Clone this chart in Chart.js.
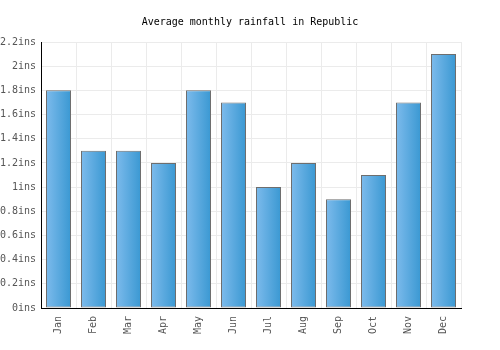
<!DOCTYPE html>
<html>
<head>
<meta charset="utf-8">
<script src="https://cdn.jsdelivr.net/npm/chart.js@4/dist/chart.umd.min.js"></script>
<style>
  html, body { margin: 0; padding: 0; background: #fff; }
  #wrap { width: 500px; height: 350px; }
</style>
</head>
<body>
<div id="wrap"><canvas id="myChart"></canvas></div>
<script>
// rainfall per month
var months = ['Jan', 'Feb', 'Mar', 'Apr', 'May', 'Jun', 'Jul', 'Aug', 'Sep', 'Oct', 'Nov', 'Dec'];
var rainfall = [1.8, 1.3, 1.3, 1.2, 1.8, 1.7, 1.0, 1.2, 0.9, 1.1, 1.7, 2.1];
var yMax = 2.2;
var yStep = 0.2;

var barPct = 25 / 35;

Chart.defaults.font.family = '"DejaVu Sans Mono", monospace';
Chart.defaults.font.size = 10;

// left-to-right blue gradient, one per bar
function barFill(context) {
  var chart = context.chart;
  var xs = chart.scales.x;
  if (!xs || !chart.chartArea) return '#5aaae0';
  var cx = xs.getPixelForValue(context.dataIndex);
  var half = xs.width / months.length * barPct / 2;
  var g = chart.ctx.createLinearGradient(cx - half, 0, cx + half, 0);
  g.addColorStop(0, '#7dbbec');
  g.addColorStop(1, '#3a98d2');
  return g;
}

new Chart(document.getElementById('myChart'), {
  type: 'bar',
  data: {
    labels: months,
    datasets: [{
      label: 'Rainfall',
      data: rainfall,
      backgroundColor: barFill,
      borderColor: '#6e6e6e',
      borderWidth: 1,
      borderSkipped: false,
      barPercentage: barPct,
      categoryPercentage: 1
    }]
  },
  options: {
    responsive: true,
    maintainAspectRatio: false,
    animation: false,
    plugins: {
      legend: { display: false },
      tooltip: { enabled: false },
      title: {
        display: true,
        text: 'Average monthly rainfall in Republic',
        color: '#000',
        font: { size: 10, weight: 'normal' },
        padding: { top: 16, bottom: 14 }
      }
    },
    scales: {
      x: {
        grid: { color: '#ebebeb', offset: true, drawTicks: false },
        border: { color: '#000', width: 1 },
        ticks: { color: '#555', minRotation: 90, maxRotation: 90, padding: 8 },
        afterFit: function (s) { s.height = 42; }
      },
      y: {
        min: 0,
        max: yMax,
        grid: { color: '#ebebeb', drawTicks: false },
        border: { color: '#000', width: 1 },
        ticks: {
          stepSize: yStep,
          color: '#555',
          padding: 5,
          callback: function (v) { return (Math.round(v * 10) / 10) + 'ins'; }
        },
        afterFit: function (s) { s.width = 41; }
      },
      // empty right margin so the title stays centred on the page
      yRight: {
        position: 'right',
        grid: { display: false },
        border: { display: false },
        ticks: { display: false },
        afterFit: function (s) { s.width = 39; }
      }
    }
  }
});
</script>
</body>
</html>
